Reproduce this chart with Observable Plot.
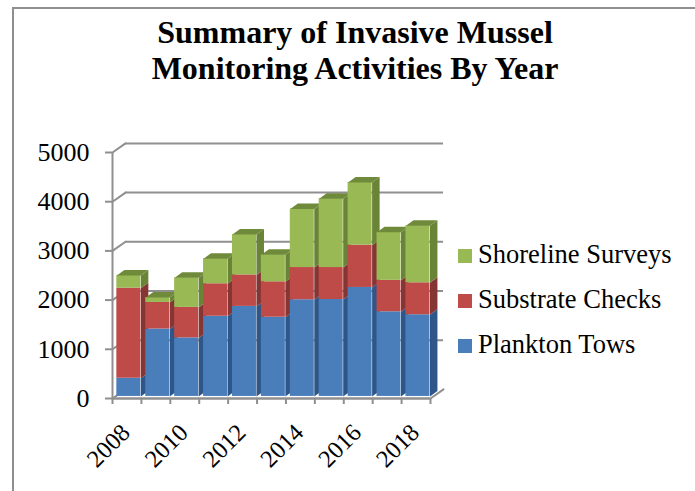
<!DOCTYPE html>
<html><head><meta charset="utf-8">
<script src="https://cdn.jsdelivr.net/npm/d3@7"></script>
<script src="https://cdn.jsdelivr.net/npm/@observablehq/plot@0.6"></script>
<style>
html,body{margin:0;padding:0;background:#fff;overflow:hidden}
#wrap{position:relative;width:695px;height:491px;font-family:"Liberation Serif",serif;color:#000}
#frame{position:absolute;left:12px;top:7px;width:690px;height:500px;border:2px solid #8f8f8f;box-sizing:border-box}
#title{position:absolute;left:0;top:14px;width:710px;text-align:center;font-weight:bold;font-size:32px;line-height:36px}
#chart{position:absolute;left:0;top:0}
.lg{position:absolute;left:478px;font-size:26.5px;line-height:30px;white-space:nowrap}
.sw{position:absolute;left:458px;width:14px;height:14px}
</style></head><body>
<div id="wrap"><div id="frame"></div><div id="chart"></div><div id="title">Summary of Invasive Mussel<br>Monitoring Activities By Year</div><div id="legend"></div></div>
<script>
const years=[2008,2009,2010,2011,2012,2013,2014,2015,2016,2017,2018];
const labelledYears=[2008,2010,2012,2014,2016,2018];
const plankton=[370,1370,1190,1630,1830,1610,1965,1970,2215,1720,1660];
const substrate=[1830,540,620,660,640,720,655,650,860,640,650];
const shoreline=[260,100,600,510,820,550,1190,1400,1275,975,1160];
const yTicks=[0,1000,2000,3000,4000,5000];
const seriesNames=["Plankton Tows","Substrate Checks","Shoreline Surveys"];
const seriesValues=[plankton,substrate,shoreline];
const frontColors=["#4a7ebb","#be4b48","#98b954"];
const sideColors=["#2f5688","#853533","#6a8437"];
const topColor="#6f8a3a";
const axisGray="#8f8f8f";

// Oblique depth, in scale units
const wallDx=0.45, wallDy=185;      // back wall offset
const barGap=0.15, barW=0.83;       // bar position within a category
const baseDy=42;                    // bars stand slightly behind the front floor edge
const depthDx=0.26, depthDy=112;    // bar side/top depth

const marks=[];
const n=years.length;
marks.push(Plot.ruleY(yTicks.slice(1),{x1:wallDx,x2:n+wallDx,y:d=>d+wallDy,stroke:axisGray,strokeWidth:2}));
const poly=(id,pts)=>pts.map(p=>({id,x:p[0],y:p[1]}));
marks.push(Plot.line(yTicks.flatMap(t=>poly(t,[[0,t],[wallDx,t+wallDy]])),{x:"x",y:"y",z:"id",stroke:axisGray,strokeWidth:2}));
marks.push(Plot.line(poly("floor",[[n,0],[n+wallDx,wallDy]]),{x:"x",y:"y",stroke:axisGray,strokeWidth:2}));
marks.push(Plot.ruleX([0],{y1:0,y2:5000,stroke:axisGray,strokeWidth:2}));
marks.push(Plot.axisY({ticks:yTicks,tickSize:7,tickPadding:16,stroke:axisGray,strokeWidth:2,fontSize:26,fontFamily:"Liberation Serif",label:null,tickFormat:d=>String(d),anchor:"left",fill:"#000"}));
marks.push(Plot.axisX({ticks:d3.range(0,n+1),tickSize:6,stroke:axisGray,strokeWidth:2,tickFormat:()=>"",label:null,anchor:"bottom"}));
years.forEach((yr,i)=>{
  const l=i+barGap, r=l+barW;
  let base=baseDy;
  seriesValues.forEach((vals,s)=>{
    const v=vals[i], t=base+v;
    marks.push(Plot.line(poly("side",[[r,base],[r+depthDx,base+depthDy],[r+depthDx,t+depthDy],[r,t],[r,base]]),{x:"x",y:"y",fill:sideColors[s],stroke:"none"}));
    marks.push(Plot.rect([{l,r,base,t}],{x1:"l",x2:"r",y1:"base",y2:"t",fill:frontColors[s]}));
    if(s===2) marks.push(Plot.line(poly("top",[[l,t],[l+depthDx,t+depthDy],[r+depthDx,t+depthDy],[r,t],[l,t]]),{x:"x",y:"y",fill:topColor,stroke:"none"}));
    base=t;
  });
});
marks.push(Plot.ruleY([0],{x1:0,x2:n,stroke:axisGray,strokeWidth:2.5}));
marks.push(Plot.text(labelledYears,{x:d=>years.indexOf(d)+0.5,y:0,text:d=>String(d),rotate:-45,textAnchor:"end",dx:-1,dy:30,fontSize:24.5,fontFamily:"Liberation Serif",fill:"#000"}));

const chart=Plot.plot({width:695,height:491,marginLeft:112,marginRight:265,marginTop:152,marginBottom:93,
  style:{background:"transparent",overflow:"visible"},
  x:{type:"linear",domain:[0,n],axis:null},
  y:{type:"linear",domain:[0,5000],axis:null},
  marks});
document.getElementById("chart").append(chart);

const legend=document.getElementById("legend");
[[2,250],[1,295],[0,340]].forEach(([s,y])=>{
  const sw=document.createElement("div");sw.className="sw";sw.style.top=(y-1)+"px";sw.style.background=frontColors[s];legend.append(sw);
  const t=document.createElement("div");t.className="lg";t.style.top=(y-11)+"px";t.textContent=seriesNames[s];legend.append(t);
});
</script></body></html>
